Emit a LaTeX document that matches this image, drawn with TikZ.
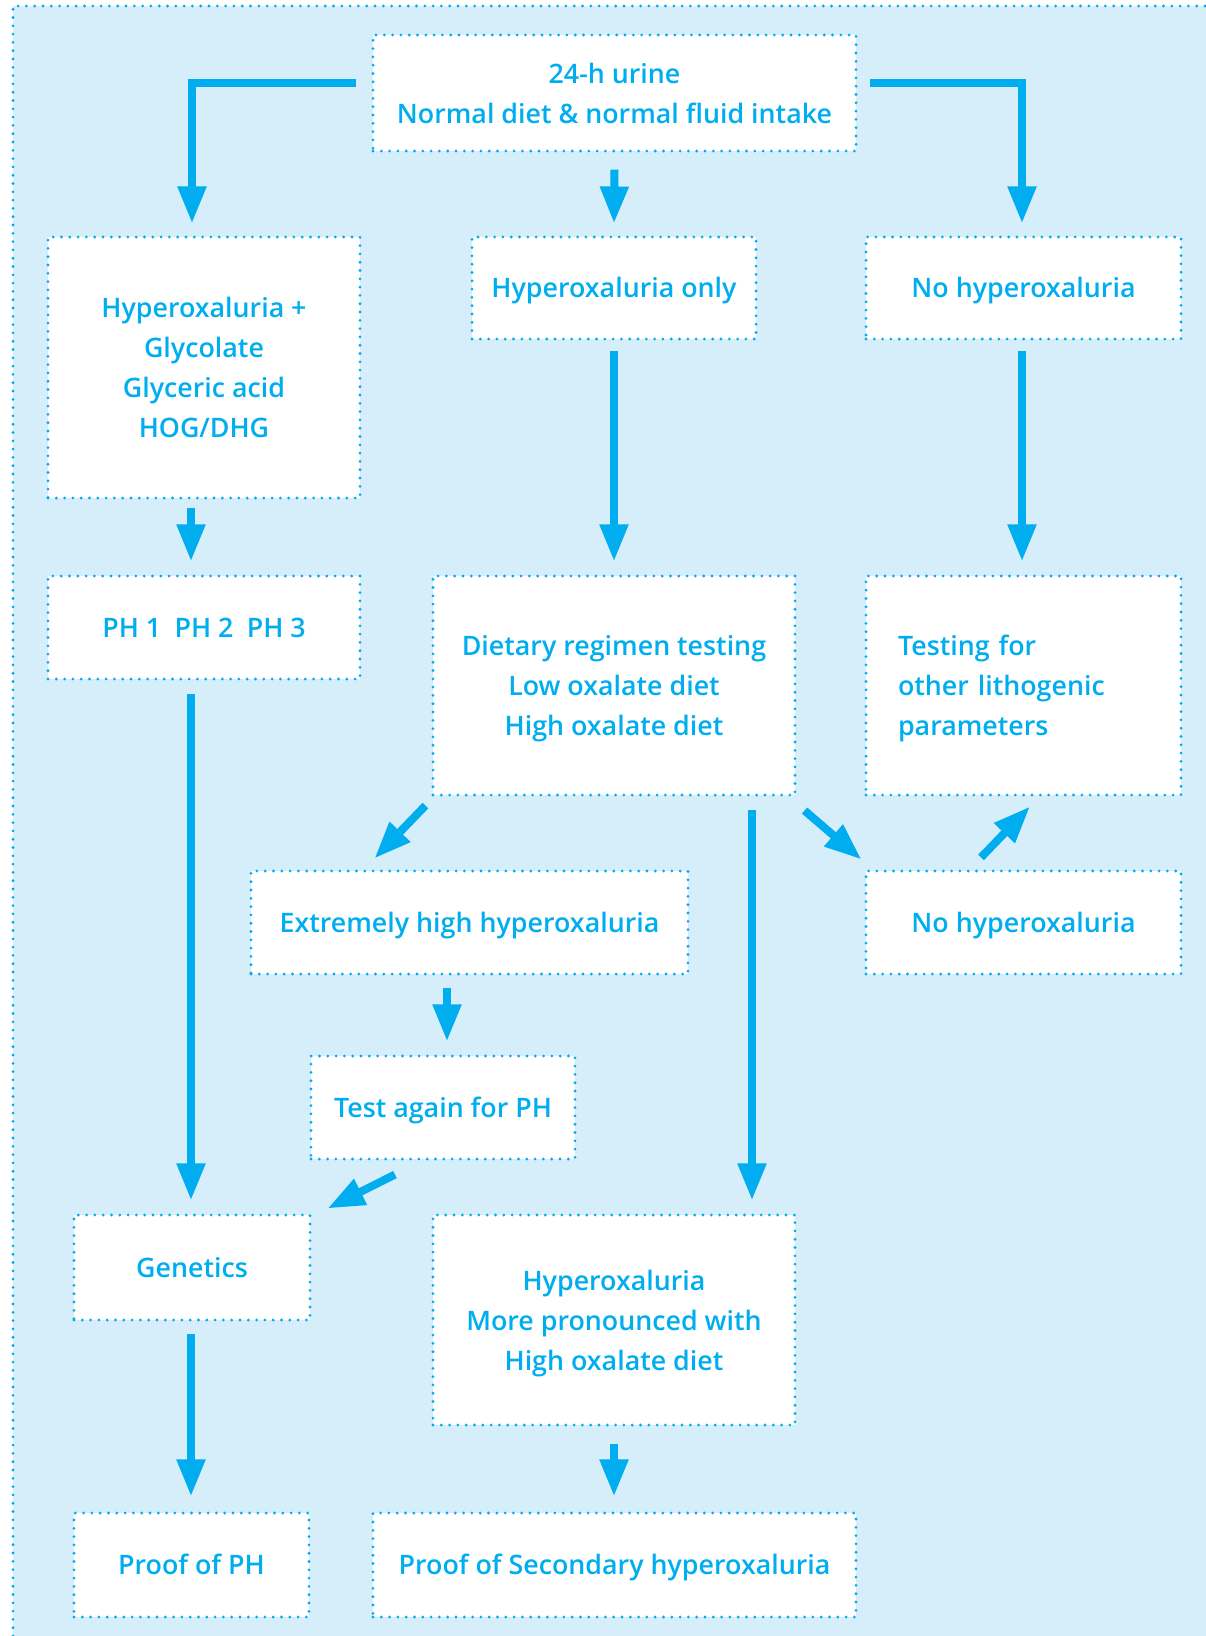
\documentclass[tikz,border=0pt]{standalone}
\usepackage{fontspec}
\setmainfont{Open Sans}[UprightFont={* Semibold}]
\usetikzlibrary{arrows.meta,calc}
\definecolor{cy}{HTML}{00AEEF}
\definecolor{bgblue}{HTML}{D6EDFA}
\tikzset{
  dotline/.style={draw=cy, line width=3.1pt, line cap=round, dash pattern=on 0pt off 8.3pt},
  box/.style={dotline, fill=white, inner sep=0pt, text=cy, align=center,
    font=\fontsize{26.8}{40}\selectfont},
  one/.style={text height=19pt, text depth=0pt},
  arr/.style={draw=cy, line width=8pt, -{Triangle[length=37pt,width=27pt]}},
}
\begin{document}
\begin{tikzpicture}[x=1pt,y=-1pt]
\useasboundingbox (0,0) rectangle (1205,1636);
\fill[bgblue] (13,6) rectangle (1210,1640);
\draw[dotline] (1205,6) -- (13,6) -- (13,1636);

\node[box, minimum width=483pt, minimum height=116pt] (top) at (614.5,93) {24-h urine\\Normal diet \& normal fluid intake};
\node[box, minimum width=312pt, minimum height=261pt] (hplus) at (204,367.5) {Hyperoxaluria +\\Glycolate\\Glyceric acid\\HOG/DHG};
\node[box, one, minimum width=284pt, minimum height=102pt] (honly) at (614,288) {Hyperoxaluria only};
\node[box, one, minimum width=315pt, minimum height=102pt] (nohyp1) at (1023.5,288) {No hyperoxaluria};
\node[box, one, minimum width=312pt, minimum height=103pt] (ph) at (204,627.5) {PH~1\enspace PH~2\enspace PH~3};
\node[box, minimum width=362pt, minimum height=219pt] (diet) at (614,685.5) {\rule{0pt}{26pt}Dietary regimen testing\\Low oxalate diet\\High oxalate diet};
\node[box, align=left, text width=251pt, inner xsep=32pt, minimum height=219pt] (testing) at (1023.5,685.5) {\rule{0pt}{25.5pt}Testing for\\other lithogenic\\parameters};
\node[box, one, minimum width=437pt, minimum height=103pt] (ext) at (469.5,922.5) {Extremely high hyperoxaluria};
\node[box, one, minimum width=315pt, minimum height=103pt] (nohyp2) at (1023.5,922.5) {No hyperoxaluria};
\node[box, one, minimum width=264pt, minimum height=103pt] (again) at (443,1107.5) {Test again for PH};
\node[box, one, minimum width=236pt, minimum height=105pt] (gen) at (192,1267.5) {Genetics};
\node[box, minimum width=362pt, minimum height=210pt] (more) at (614,1320) {\rule{0pt}{28pt}Hyperoxaluria\\More pronounced with\\High oxalate diet};
\node[box, one, minimum width=235pt, minimum height=104pt] (proofph) at (191.5,1565) {Proof of PH};
\node[box, one, minimum width=483pt, minimum height=104pt] (proofsec) at (614.5,1565) {Proof of Secondary hyperoxaluria};

\draw[arr] ([xshift=-15pt,yshift=10pt]top.west) -| ([xshift=-12pt,yshift=12pt]hplus.north);
\draw[arr] ([xshift=12pt,yshift=10pt]top.east) -| ([xshift=-1.5pt,yshift=12pt]nohyp1.north);
\draw[arr] ([yshift=-17pt]top.south) -- ([yshift=12pt]honly.north);
\draw[arr] ([yshift=-10pt]honly.south) -- ([yshift=13pt]diet.north);
\draw[arr] ([xshift=-1.5pt,yshift=-10pt]nohyp1.south) -- ([xshift=-1.5pt,yshift=13pt]testing.north);
\draw[arr] ([xshift=-13pt,yshift=-8pt]hplus.south) -- ([xshift=-13pt,yshift=13pt]ph.north);
\draw[arr] ([xshift=-13pt,yshift=-13pt]ph.south) -- ([xshift=-1pt,yshift=13pt]gen.north);
\draw[arr] ([xshift=-1pt,yshift=-12pt]gen.south) -- ([xshift=-0.5pt,yshift=15pt]proofph.north);
\draw[arr] ([xshift=-6pt,yshift=-9pt]diet.south west) -- ([xshift=125pt,yshift=11pt]ext.north west);
\draw[arr] ([xshift=138pt,yshift=-13pt]diet.south) -- ([xshift=138pt,yshift=13pt]more.north);
\draw[arr] ([xshift=8pt,yshift=-14pt]diet.south east) -- ([xshift=-3pt,yshift=10pt]nohyp2.north west);
\draw[arr] ([xshift=-42.5pt,yshift=12pt]nohyp2.north) -- ([xshift=6.5pt,yshift=-10pt]testing.south);
\draw[arr] ([xshift=-22.5pt,yshift=-12pt]ext.south) -- ([xshift=4pt,yshift=13pt]again.north);
\draw[arr] ([xshift=-48pt,yshift=-14pt]again.south) -- ([xshift=16pt,yshift=5pt]gen.north east);
\draw[arr] ([yshift=-17pt]more.south) -- ([xshift=-0.5pt,yshift=15pt]proofsec.north);
\end{tikzpicture}
\end{document}
